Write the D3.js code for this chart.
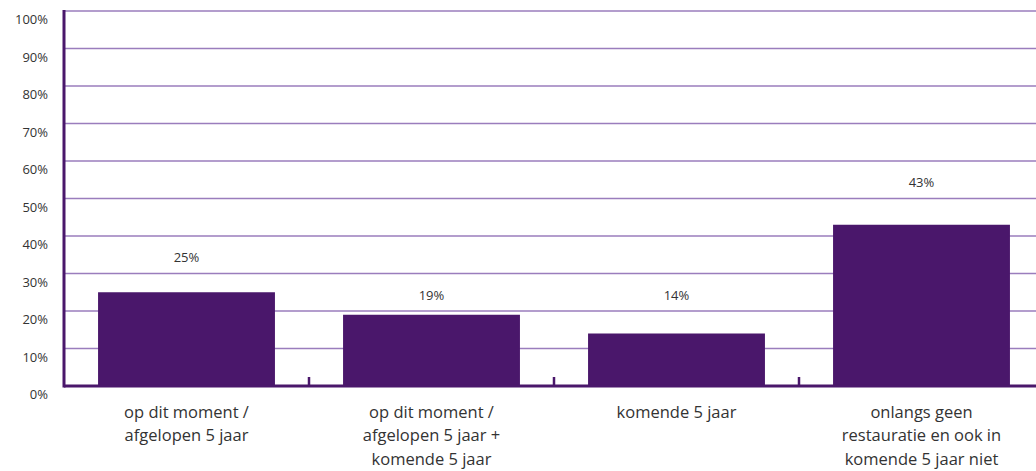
<!DOCTYPE html>
<html><head><meta charset="utf-8">
<script src="https://cdn.jsdelivr.net/npm/d3@7"></script>
<style>body{margin:0;background:#fff;}svg{display:block;}</style>
</head><body>
<svg id="c" width="1036" height="471"></svg>
<script>
const categories = [
  ["op dit moment /", "afgelopen 5 jaar"],
  ["op dit moment /", "afgelopen 5 jaar +", "komende 5 jaar"],
  ["komende 5 jaar"],
  ["onlangs geen", "restauratie en ook in", "komende 5 jaar niet"]
];
const values = [25, 19, 14, 43];
const yTicks = [0, 10, 20, 30, 40, 50, 60, 70, 80, 90, 100];

(function () {
const svg = d3.select("#c");
const font = "'Open Sans', sans-serif";
const purple = "#4a176b";
const grid = "#9a7dbd";
const mLeft = 64, mRight = 1044, mTop = 11, mBottom = 386;

const x = d3.scaleBand().domain(d3.range(values.length)).range([mLeft, mRight]).paddingInner(0.278).paddingOuter(0.139);
const xb = d3.scaleBand().domain(d3.range(values.length)).range([mLeft, mRight]);
const y = d3.scaleLinear().domain([0, 100]).range([mBottom, mTop]);

svg.append("g").selectAll("line").data(yTicks.filter(d => d > 0)).join("line")
  .attr("x1", mLeft).attr("x2", 1036)
  .attr("y1", d => y(d)).attr("y2", d => y(d))
  .attr("stroke", grid).attr("stroke-width", 1.5);

svg.append("g").selectAll("text").data(yTicks).join("text")
  .attr("x", 48).attr("y", d => y(d) + 8.5).attr("dy", "0.35em")
  .attr("text-anchor", "end").attr("font-family", font).attr("font-size", 13)
  .attr("fill", "#333").text(d => d + "%");

svg.append("g").selectAll("rect").data(values).join("rect")
  .attr("x", (d, i) => x(i)).attr("width", x.bandwidth())
  .attr("y", d => y(d)).attr("height", d => y(0) - y(d))
  .attr("fill", purple);

svg.append("g").selectAll("text").data(values).join("text")
  .attr("x", (d, i) => x(i) + x.bandwidth() / 2)
  .attr("y", d => y(Math.floor(d / 10) * 10 + 14.2)).attr("dy", "0.35em")
  .attr("text-anchor", "middle").attr("font-family", font).attr("font-size", 13)
  .attr("fill", "#333").text(d => d + "%");

svg.append("line").attr("x1", mLeft).attr("x2", 1036).attr("y1", mBottom).attr("y2", mBottom)
  .attr("stroke", purple).attr("stroke-width", 3);
svg.append("line").attr("x1", mLeft).attr("x2", mLeft).attr("y1", mTop - 1).attr("y2", mBottom + 1.5)
  .attr("stroke", purple).attr("stroke-width", 3);

svg.append("g").selectAll("line").data(d3.range(1, values.length)).join("line")
  .attr("x1", d => xb(d)).attr("x2", d => xb(d))
  .attr("y1", mBottom - 9).attr("y2", mBottom)
  .attr("stroke", purple).attr("stroke-width", 2.5);

const cg = svg.append("g").selectAll("text").data(categories).join("text")
  .attr("x", (d, i) => x(i) + x.bandwidth() / 2)
  .attr("y", 412)
  .attr("text-anchor", "middle").attr("font-family", font).attr("font-size", 16.5)
  .attr("fill", "#333");
cg.selectAll("tspan").data(d => d).join("tspan")
  .attr("x", function() { return this.parentNode.getAttribute("x"); })
  .attr("dy", (d, i) => i === 0 ? "0.35em" : 23.5)
  .text(d => d);
})();
</script>
</body></html>
